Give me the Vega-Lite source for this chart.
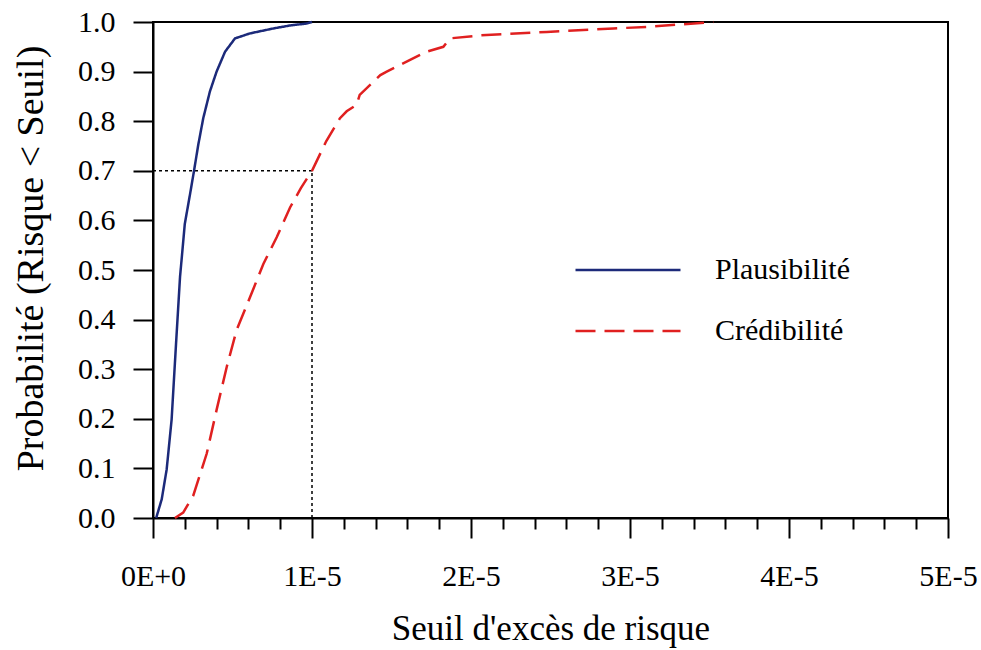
{
  "$schema": "https://vega.github.io/schema/vega-lite/v6.json",
  "width": 795,
  "height": 496,
  "autosize": "none",
  "padding": {"left": 153, "top": 22, "right": 33, "bottom": 132},
  "background": "white",
  "config": {
    "font": "Liberation Serif",
    "view": {"stroke": "black", "strokeWidth": 2}
  },
  "datasets": {
    "curves": [
      {"serie": "Plausibilité", "seuil": 2e-7, "p": 0},
      {"serie": "Plausibilité", "seuil": 5.5e-7, "p": 0.038},
      {"serie": "Plausibilité", "seuil": 8.6e-7, "p": 0.098},
      {"serie": "Plausibilité", "seuil": 1.17e-6, "p": 0.198},
      {"serie": "Plausibilité", "seuil": 1.45e-6, "p": 0.352},
      {"serie": "Plausibilité", "seuil": 1.7e-6, "p": 0.486},
      {"serie": "Plausibilité", "seuil": 2.0e-6, "p": 0.593},
      {"serie": "Plausibilité", "seuil": 2.33e-6, "p": 0.653},
      {"serie": "Plausibilité", "seuil": 2.58e-6, "p": 0.70},
      {"serie": "Plausibilité", "seuil": 2.85e-6, "p": 0.753},
      {"serie": "Plausibilité", "seuil": 3.16e-6, "p": 0.806},
      {"serie": "Plausibilité", "seuil": 3.58e-6, "p": 0.86},
      {"serie": "Plausibilité", "seuil": 4.0e-6, "p": 0.90},
      {"serie": "Plausibilité", "seuil": 4.53e-6, "p": 0.94},
      {"serie": "Plausibilité", "seuil": 5.16e-6, "p": 0.967},
      {"serie": "Plausibilité", "seuil": 6.1e-6, "p": 0.977},
      {"serie": "Plausibilité", "seuil": 7.57e-6, "p": 0.987},
      {"serie": "Plausibilité", "seuil": 8.62e-6, "p": 0.993},
      {"serie": "Plausibilité", "seuil": 9.67e-6, "p": 0.997},
      {"serie": "Plausibilité", "seuil": 1.0e-5, "p": 1.0},
      {"serie": "Crédibilité", "seuil": 1.38e-6, "p": 0},
      {"serie": "Crédibilité", "seuil": 1.9e-6, "p": 0.011},
      {"serie": "Crédibilité", "seuil": 2.53e-6, "p": 0.045},
      {"serie": "Crédibilité", "seuil": 3.38e-6, "p": 0.13},
      {"serie": "Crédibilité", "seuil": 4.0e-6, "p": 0.218},
      {"serie": "Crédibilité", "seuil": 4.64e-6, "p": 0.305},
      {"serie": "Crédibilité", "seuil": 5.26e-6, "p": 0.379},
      {"serie": "Crédibilité", "seuil": 6.1e-6, "p": 0.445},
      {"serie": "Crédibilité", "seuil": 6.94e-6, "p": 0.512},
      {"serie": "Crédibilité", "seuil": 7.78e-6, "p": 0.566},
      {"serie": "Crédibilité", "seuil": 8.62e-6, "p": 0.626},
      {"serie": "Crédibilité", "seuil": 9.3e-6, "p": 0.665},
      {"serie": "Crédibilité", "seuil": 1.0e-5, "p": 0.70},
      {"serie": "Crédibilité", "seuil": 1.09e-5, "p": 0.76},
      {"serie": "Crédibilité", "seuil": 1.176e-5, "p": 0.806},
      {"serie": "Crédibilité", "seuil": 1.218e-5, "p": 0.82},
      {"serie": "Crédibilité", "seuil": 1.28e-5, "p": 0.833},
      {"serie": "Crédibilité", "seuil": 1.30e-5, "p": 0.853},
      {"serie": "Crédibilité", "seuil": 1.43e-5, "p": 0.893},
      {"serie": "Crédibilité", "seuil": 1.47e-5, "p": 0.90},
      {"serie": "Crédibilité", "seuil": 1.595e-5, "p": 0.92},
      {"serie": "Crédibilité", "seuil": 1.72e-5, "p": 0.94},
      {"serie": "Crédibilité", "seuil": 1.826e-5, "p": 0.95},
      {"serie": "Crédibilité", "seuil": 1.868e-5, "p": 0.967},
      {"serie": "Crédibilité", "seuil": 2.057e-5, "p": 0.973},
      {"serie": "Crédibilité", "seuil": 2.476e-5, "p": 0.98},
      {"serie": "Crédibilité", "seuil": 2.895e-5, "p": 0.987},
      {"serie": "Crédibilité", "seuil": 3.105e-5, "p": 0.99},
      {"serie": "Crédibilité", "seuil": 3.314e-5, "p": 0.995},
      {"serie": "Crédibilité", "seuil": 3.524e-5, "p": 1.0}
    ],
    "guides": [
      {"x": 0, "x2": 1e-5, "y": 0.7, "y2": 0.7},
      {"x": 1e-5, "x2": 1e-5, "y": 0, "y2": 0.7}
    ]
  },
  "layer": [
    {
      "data": {"name": "guides"},
      "mark": {"type": "rule", "color": "black", "strokeWidth": 1.5, "strokeDash": [3, 3]},
      "encoding": {
        "x": {"field": "x", "type": "quantitative", "scale": {"domain": [0, 5e-5], "nice": false, "zero": false}},
        "x2": {"field": "x2"},
        "y": {"field": "y", "type": "quantitative", "scale": {"domain": [0, 1], "nice": false}},
        "y2": {"field": "y2"}
      }
    },
    {
      "data": {"name": "curves"},
      "mark": {"type": "line", "strokeWidth": 2.5},
      "encoding": {
        "x": {
          "field": "seuil", "type": "quantitative",
          "scale": {"domain": [0, 5e-5], "nice": false, "zero": false},
          "axis": {
            "title": "Seuil d'excès de risque",
            "values": [0, 2e-6, 4e-6, 6e-6, 8e-6, 1e-5, 1.2e-5, 1.4e-5, 1.6e-5, 1.8e-5, 2e-5, 2.2e-5, 2.4e-5, 2.6e-5, 2.8e-5, 3e-5, 3.2e-5, 3.4e-5, 3.6e-5, 3.8e-5, 4e-5, 4.2e-5, 4.4e-5, 4.6e-5, 4.8e-5, 5e-5],
            "tickCount": 40,
            "labelExpr": "abs(datum.value*1e5 - round(datum.value*1e5)) < 0.001 ? (datum.value == 0 ? '0E+0' : round(datum.value*1e5) + 'E-5') : ''",
            "tickSize": {"condition": {"test": "abs(datum.value*1e5 - round(datum.value*1e5)) < 0.001", "value": 20}, "value": 11},
            "labelPadding": 23,
            "labelOverlap": false,
            "labelFlush": false,
            "labelFont": "Liberation Serif",
            "labelFontSize": 30,
            "labelColor": "black",
            "titleFont": "Liberation Serif",
            "titleFontSize": 35,
            "titleFontWeight": "normal",
            "titleColor": "black",
            "titlePadding": 20,
            "domainColor": "black",
            "domainWidth": 2,
            "tickColor": "black",
            "tickWidth": 2,
            "grid": false
          }
        },
        "y": {
          "field": "p", "type": "quantitative",
          "scale": {"domain": [0, 1], "nice": false},
          "axis": {
            "title": "Probabilité (Risque < Seuil)",
            "values": [0, 0.1, 0.2, 0.3, 0.4, 0.5, 0.6, 0.7, 0.8, 0.9, 1.0],
            "tickCount": 20,
            "format": ".1f",
            "tickSize": 20,
            "labelPadding": 18,
            "labelFont": "Liberation Serif",
            "labelFontSize": 30,
            "labelColor": "black",
            "titleFont": "Liberation Serif",
            "titleFontSize": 38,
            "titleFontWeight": "normal",
            "titleColor": "black",
            "titlePadding": 27,
            "titleY": 236,
            "domainColor": "black",
            "domainWidth": 2,
            "tickColor": "black",
            "tickWidth": 2,
            "grid": false
          }
        },
        "color": {
          "field": "serie", "type": "nominal",
          "scale": {"domain": ["Plausibilité", "Crédibilité"], "range": ["#1c2a7a", "#e02020"]},
          "legend": {
            "title": null,
            "orient": "none",
            "legendX": 460,
            "legendY": 233,
            "padding": 0,
            "symbolType": "M-5,0H5",
            "symbolSize": 441,
            "symbolStrokeWidth": 2.5,
            "labelOffset": 72,
            "labelFontSize": 30,
            "labelFont": "Liberation Serif",
            "labelColor": "black",
            "rowPadding": 31
          }
        },
        "strokeDash": {
          "field": "serie", "type": "nominal",
          "scale": {"domain": ["Plausibilité", "Crédibilité"], "range": [[1, 0], [20, 9]]},
          "legend": {
            "title": null,
            "orient": "none",
            "legendX": 460,
            "legendY": 233,
            "padding": 0,
            "symbolType": "M-5,0H5",
            "symbolSize": 441,
            "symbolStrokeWidth": 2.5,
            "labelOffset": 72,
            "labelFontSize": 30,
            "labelFont": "Liberation Serif",
            "labelColor": "black",
            "rowPadding": 31
          }
        }
      }
    }
  ]
}
